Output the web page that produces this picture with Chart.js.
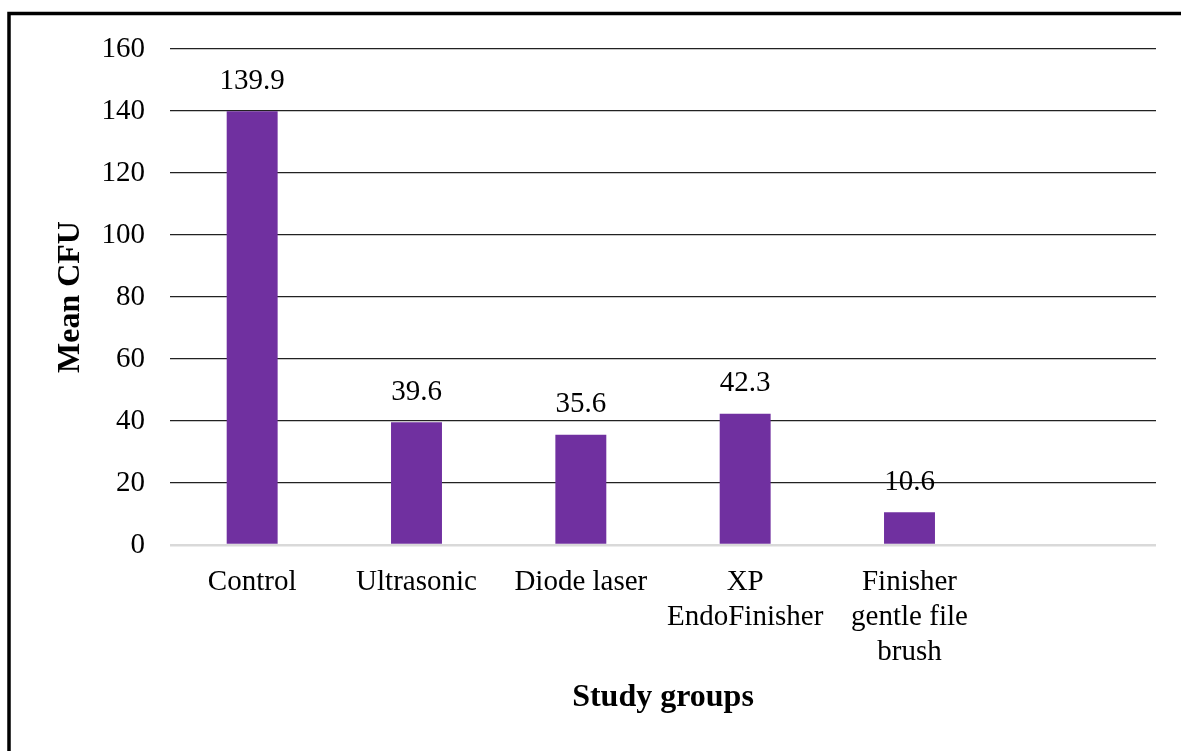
<!DOCTYPE html>
<html>
<head>
    <title>Mean CFU by study group</title>
    <meta name="viewport" content="width=device-width, initial-scale=1.0">
    <script src="https://cdn.jsdelivr.net/npm/chart.js"></script>
    <style>
        html, body { margin: 0; padding: 0; background: #fff; }
        #wrap { width: 1181px; height: 751px; }
    </style>
</head>
<body>
    <div id="wrap"><canvas id="chart" width="1181" height="751"></canvas></div>
    <script>
        // data (last slot is empty in the original)
        const groups = ["Control", "Ultrasonic", "Diode laser", ["XP", "EndoFinisher"], ["Finisher", "gentle file", "brush"], ""];
        const meanCfu = [139.9, 39.6, 35.6, 42.3, 10.6, null];
        const yTicks = { min: 0, max: 160, step: 20 };

        const serif = "'Liberation Serif', 'Times New Roman', serif";

        // black frame around the whole figure
        const framePlugin = {
            id: "frame",
            beforeDraw(chart) {
                const ctx = chart.ctx;
                ctx.save();
                ctx.fillStyle = "#fff";
                ctx.fillRect(0, 0, chart.width, chart.height);
                ctx.strokeStyle = "#000";
                ctx.lineWidth = 3.5;
                ctx.strokeRect(9, 13.5, chart.width + 50, chart.height + 50);
                ctx.restore();
            }
        };

        // value above each bar
        const valueLabels = {
            id: "valueLabels",
            afterDatasetsDraw(chart) {
                const ctx = chart.ctx;
                const meta = chart.getDatasetMeta(0);
                ctx.save();
                ctx.font = "29px " + serif;
                ctx.fillStyle = "#000";
                ctx.textAlign = "center";
                ctx.textBaseline = "middle";
                meta.data.forEach((bar, i) => {
                    const v = meanCfu[i];
                    if (v === null) return;
                    ctx.fillText(v.toFixed(1), bar.x, bar.y - 30);
                });
                ctx.restore();
            }
        };

        new Chart(document.getElementById("chart"), {
            type: "bar",
            data: {
                labels: groups,
                datasets: [{
                    data: meanCfu,
                    backgroundColor: "#7030A0",
                    borderWidth: 0,
                    categoryPercentage: 1,
                    barPercentage: 0.31
                }]
            },
            options: {
                responsive: false,
                animation: false,
                layout: { padding: { left: 0, top: 49, right: 25, bottom: 0 } },
                plugins: {
                    legend: { display: false },
                    tooltip: { enabled: false }
                },
                scales: {
                    x: {
                        grid: { display: false },
                        border: { display: false },
                        ticks: {
                            color: "#000",
                            padding: 12,
                            maxRotation: 0,
                            autoSkip: false,
                            font: { family: serif, size: 29, lineHeight: 1.2 }
                        },
                        title: {
                            display: true,
                            text: "Study groups",
                            color: "#000",
                            padding: { top: 0, bottom: 34 },
                            font: { family: serif, size: 32, weight: "bold", lineHeight: 1.2 }
                        },
                        afterFit(scale) { scale.height = 206; }
                    },
                    y: {
                        min: yTicks.min,
                        max: yTicks.max,
                        border: { display: false },
                        grid: {
                            drawTicks: false,
                            color: (c) => c.tick && c.tick.value === 0 ? "#d9d9d9" : "#222",
                            lineWidth: (c) => c.tick && c.tick.value === 0 ? 2.5 : 1.3
                        },
                        ticks: {
                            stepSize: yTicks.step,
                            color: "#000",
                            padding: 25,
                            font: { family: serif, size: 29 }
                        },
                        title: {
                            display: true,
                            text: "Mean CFU",
                            color: "#000",
                            padding: { top: 52, bottom: 0 },
                            font: { family: serif, size: 32, weight: "bold", lineHeight: 1.2 }
                        },
                        afterFit(scale) { scale.width = 170; }
                    }
                }
            },
            plugins: [framePlugin, valueLabels]
        });
    </script>
</body>
</html>
